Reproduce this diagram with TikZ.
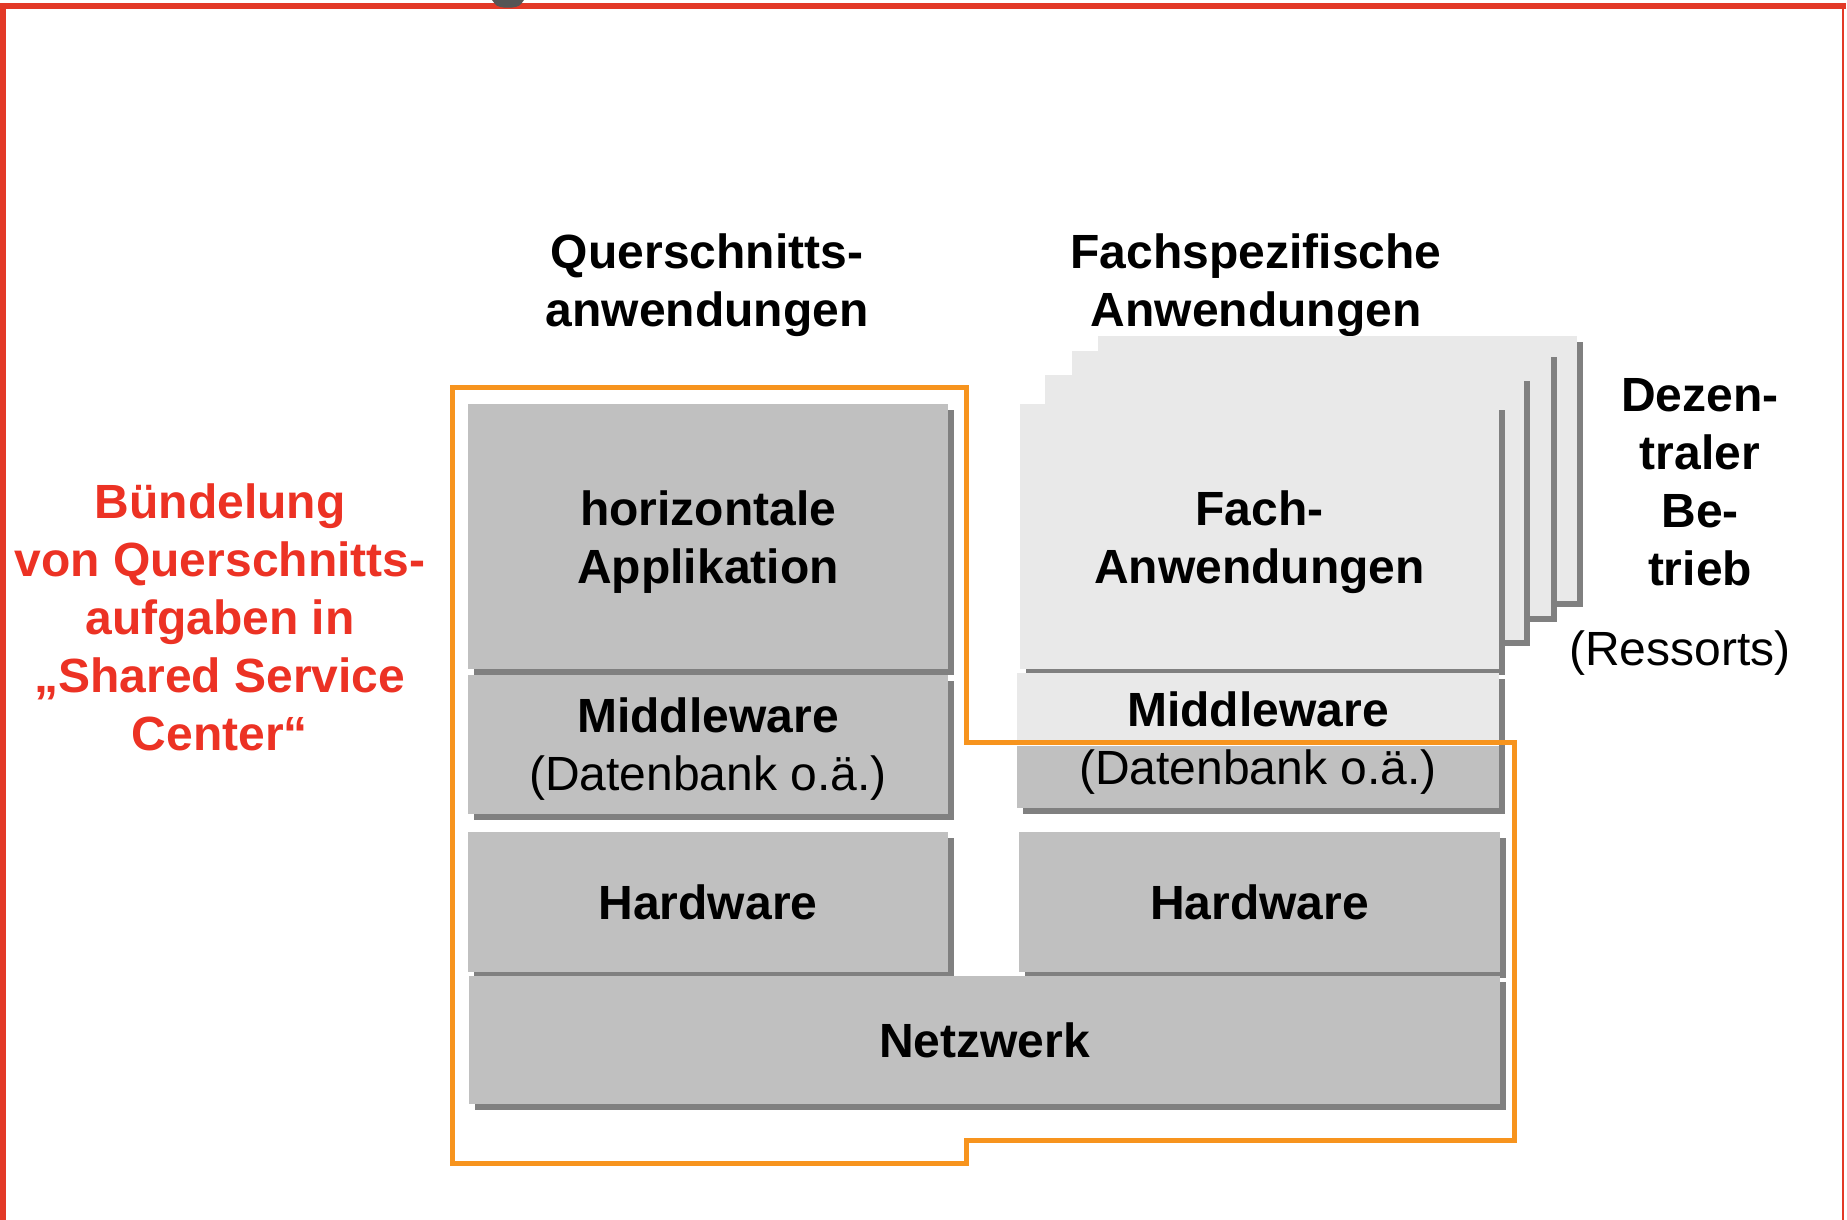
\documentclass[tikz,border=0pt]{standalone}
\usepackage{fontspec}
\setmainfont{Liberation Sans}
\usetikzlibrary{shadows}
\definecolor{framered}{RGB}{227,57,39}
\definecolor{textred}{RGB}{236,50,36}
\definecolor{bundleorange}{RGB}{247,148,30}
\definecolor{tiergray}{RGB}{192,192,192}
\definecolor{sheetgray}{RGB}{233,233,233}
\definecolor{shadowgray}{RGB}{128,128,128}
\definecolor{knobgray}{RGB}{85,85,85}

\begin{document}
\begin{tikzpicture}[x=1pt,y=-1pt,
  tier/.style={fill=tiergray, inner sep=0pt, align=center,
    font=\fontsize{48}{58}\selectfont,
    drop shadow={opacity=1, shadow xshift=6pt, shadow yshift=-6pt, fill=shadowgray}},
  sheet/.style={tier, fill=sheetgray, minimum width=479pt, minimum height=265pt},
  caption/.style={inner sep=0pt, align=center, font=\fontsize{48}{58}\selectfont\bfseries},
  redcaption/.style={caption, text=textred}]
\useasboundingbox (0,0) rectangle (1847,1220);

% frame
\draw[framered, line width=6pt] (3,1220) -- (3,6) -- (1846,6);
\draw[framered, line width=2.3pt] (1843,6) -- (1843,1220);
\fill[knobgray] (492,0) -- (524,0) -- (521,4) .. controls (518,9) and (498,9) .. (495,4) -- cycle;

% column headings
\node[caption] (quer) at (707,285) {Querschnitts-\\anwendungen};
\node[caption] (fachsp) at (1256,285) {Fachspezifische\\Anwendungen};

% left stack
\node[tier, minimum width=480pt, minimum height=265pt] (app) at (708,536.5) {};
\node[tier, minimum width=480pt, minimum height=139pt] (mwL) at (708,744.5) {};
\node[tier, minimum width=480pt, minimum height=140pt] (hwL) at (708,902) {\textbf{Hardware}};
\node[caption] (appTxt) at ([yshift=-6pt]app.center) {horizontale\\Applikation};
\node[caption, font=\fontsize{48}{58}\selectfont] (mwLTxt) at ([yshift=-5pt]mwL.center) {\textbf{Middleware}\\(Datenbank o.ä.)};

% right stack, sheets from back to front
\foreach \dx/\dy/\nm in {78/-68/sheetD, 52/-53/sheetC, 25/-29/sheetB}
  \node[sheet] (\nm) at ({1259.5+\dx},{536.5+\dy}) {};
\node[sheet] (fach) at (1259.5,536.5) {};
\node[caption] (fachTxt) at ([yshift=-6pt]fach.center) {Fach-\\Anwendungen};
\node[tier, minimum width=482pt, minimum height=135pt] (mwR) at (1258,740.5) {};
\fill[sheetgray] (mwR.north west) rectangle (mwR.east |- 0,742);
\fill[white] (mwR.west |- 0,742) rectangle (mwR.east |- 0,746);
\node[tier, minimum width=481pt, minimum height=140pt] (hwR) at (1259.5,902) {\textbf{Hardware}};

\node[tier, minimum width=1031pt, minimum height=128pt] (net) at (984.5,1040) {\textbf{Netzwerk}};

% shared service outline
\draw[bundleorange, line width=5pt] (452,387) -- (966,387) -- (966,742) -- (1514,742)
  -- (1514,1140) -- (966,1140) -- (966,1163) -- (452,1163) -- cycle;
\node[caption, font=\fontsize{48}{58}\selectfont] (mwRTxt) at (1258,743) {\textbf{Middleware}\\(Datenbank o.ä.)};

% side labels
\node[redcaption] (buendel) at (220,617.5) {Bündelung\\von Querschnitts-\\aufgaben in\\„Shared Service\\Center“};
\node[caption] (dezent) at (1700,482) {Dezen-\\traler\\Be-\\trieb};
\node[caption, font=\fontsize{48}{58}\selectfont] (ressort) at (1680,653.5) {(Ressorts)};
\end{tikzpicture}
\end{document}
